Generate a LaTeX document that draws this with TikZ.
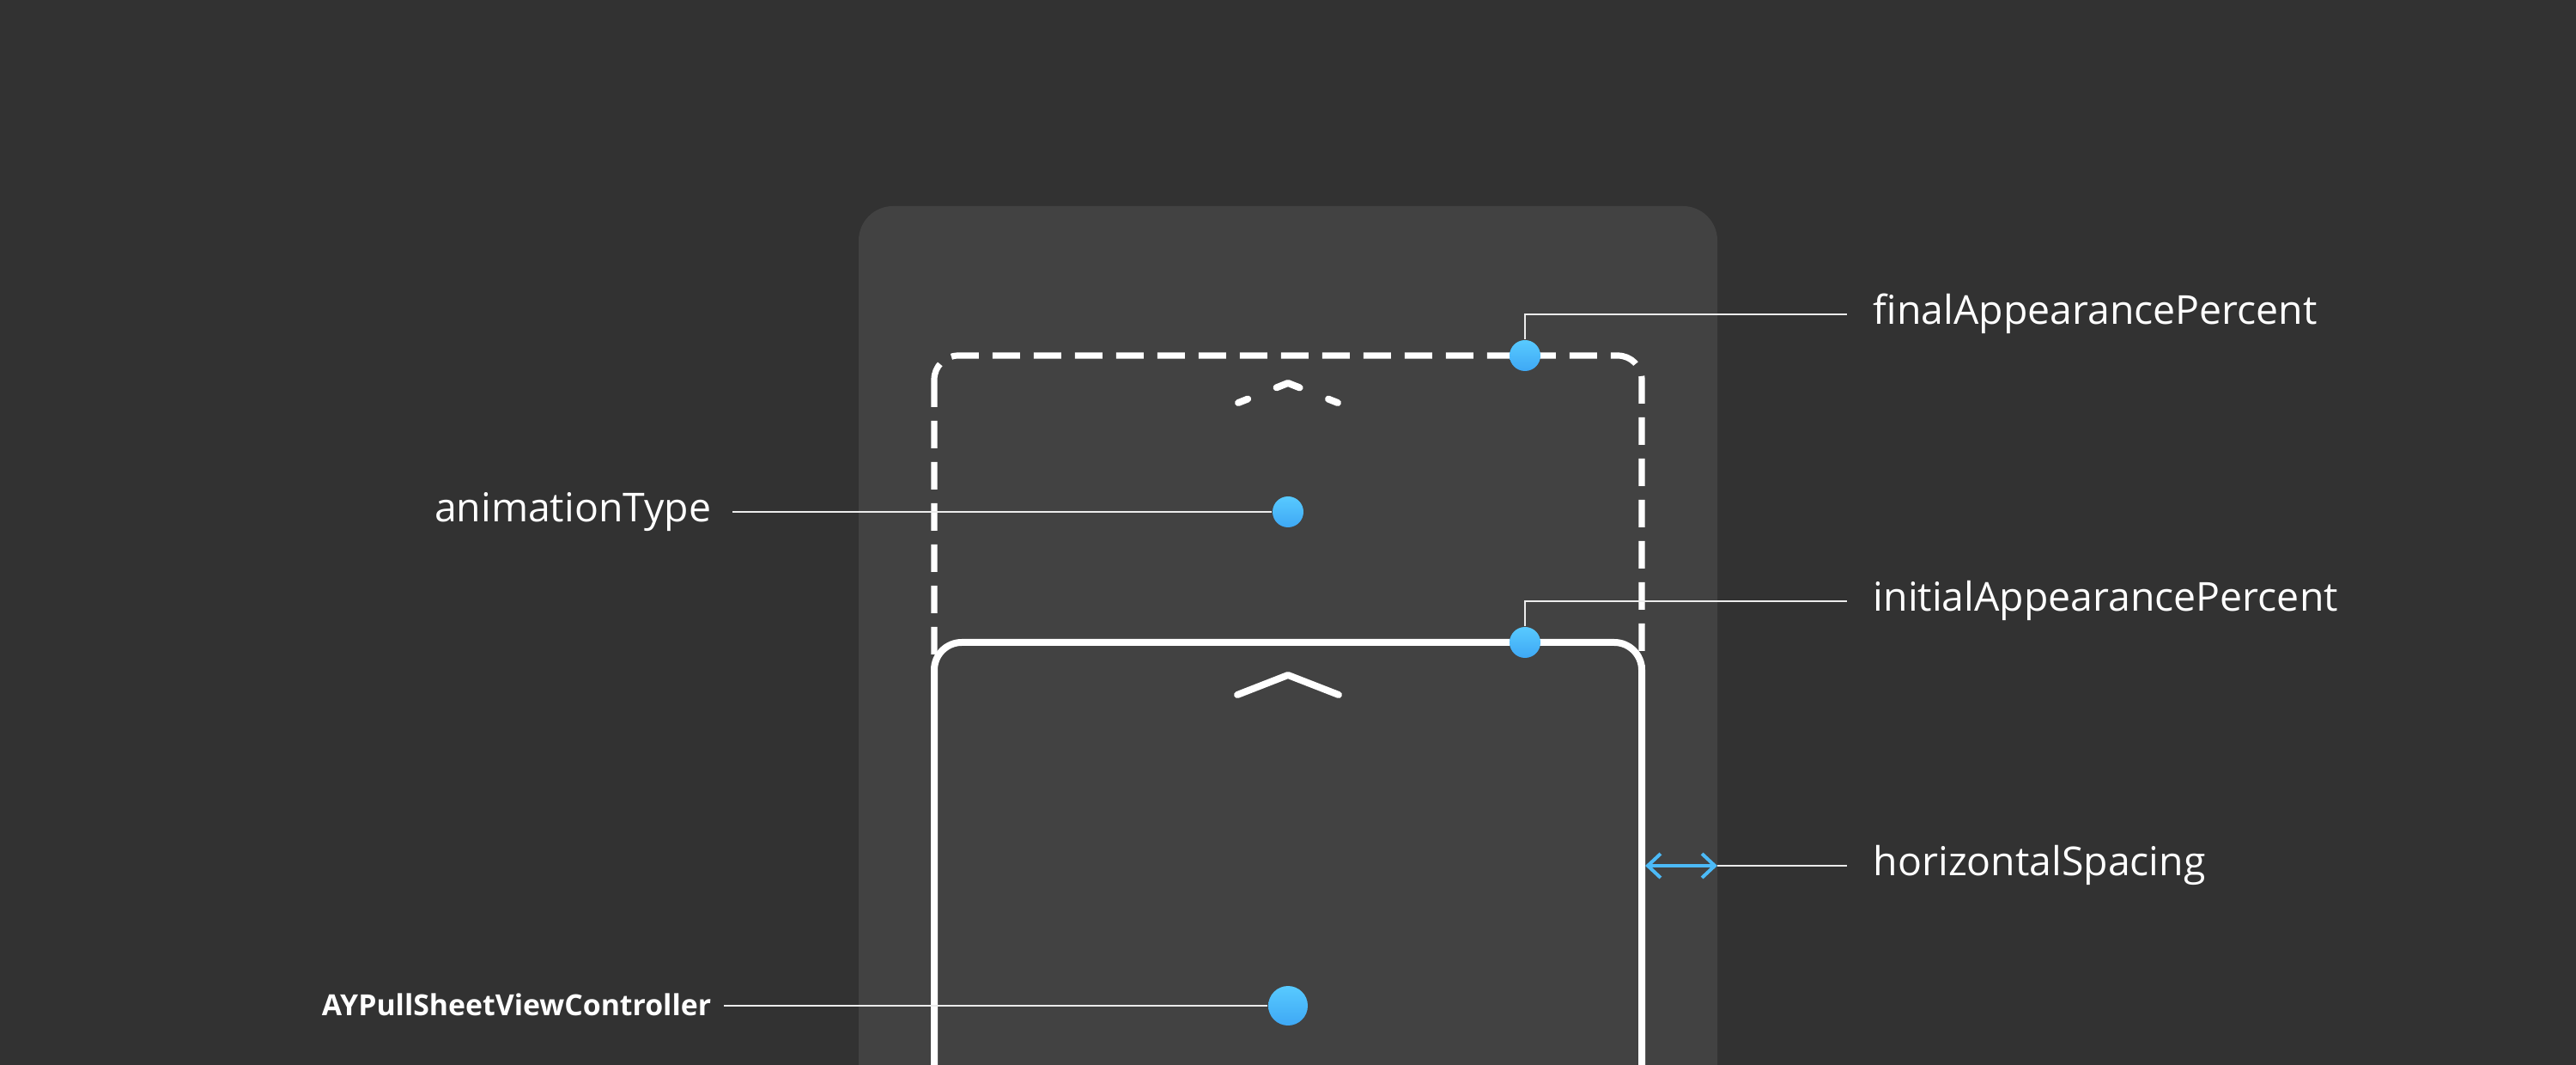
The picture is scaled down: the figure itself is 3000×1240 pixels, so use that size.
\documentclass[tikz,border=0pt]{standalone}
\usepackage{fontspec}
\setmainfont{Open Sans}
\usetikzlibrary{positioning,arrows.meta}
\definecolor{bgd}{RGB}{50,50,50}
\definecolor{pnl}{RGB}{66,66,66}
\definecolor{dotA}{RGB}{88,202,255}
\definecolor{dotB}{RGB}{62,168,245}
\definecolor{spcb}{RGB}{76,186,247}

\begin{document}
\begin{tikzpicture}[x=0.25pt,y=-0.25pt,font=\fontsize{11.6}{14}\selectfont,
  sheet/.style={draw=white,line width=2pt,rounded corners=8pt,fill=pnl},
  ghost/.style={draw=white,line width=1.8pt,rounded corners=7pt,dash pattern=on 8pt off 4pt},
  chev/.style={draw=white,line width=2pt,line cap=round,line join=round},
  dot/.style={circle,inner sep=0pt,minimum size=9pt,top color=dotA,bottom color=dotB,draw=none},
  lab/.style={text=white,inner xsep=6pt,inner ysep=0pt,text height=0.8em,text depth=0.24em},
  lead/.style={draw=white!85!gray,line width=0.35pt},
  spc/.style={draw=spcb,line width=1pt,>={Straight Barb[length=3.75pt,width=7pt]},<->}]
  \useasboundingbox (0,0) rectangle (3000,1240);
  \clip (0,0) rectangle (3000,1240);
  \fill[bgd] (0,0) rectangle (3000,1240);
  % phone panel and the two sheet positions
  \fill[pnl,rounded corners=10pt] (1000,240) rectangle (2000,1320);
  \draw[ghost] (1088,414) rectangle (1912,1400);
  \draw[chev,dash pattern=on 3pt off 9pt on 7.25pt off 9pt on 3pt off 10pt] (1442,469) -- (1500,446) -- (1558,469);
  \draw[sheet] (1088,748) rectangle (1912,1400);
  \draw[chev] (1441,809) -- (1500,786) -- (1559,809);
  % markers
  \node[dot] (fin) at (1776,414) {};
  \node[dot] (ini) at (1776,748) {};
  \node[dot] (anim) at (1500,596) {};
  \node[dot,minimum size=11.5pt] (pull) at (1500,1171) {};
  \coordinate (hsL) at (1916,1008); \coordinate (hsR) at (2000,1008);
  % labels
  \node[lab,anchor=west,inner xsep=7.5pt] (finlab) at (2151,366) {finalAppearancePercent};
  \node[lab,anchor=west,inner xsep=7.5pt] (inilab) at (2151,700) {initialAppearancePercent};
  \node[lab,anchor=west,inner xsep=7.5pt] (hslab) at (2151,1008) {horizontalSpacing};
  \node[lab,anchor=east] (animlab) at (853,596) {animationType};
  \node[lab,anchor=east,inner xsep=3.5pt,font=\bfseries\fontsize{8.45}{10}\selectfont] (pulllab) at (843,1171) {AYPullSheetViewController};
  \draw[lead] (fin) |- (finlab.west); \draw[lead] (ini) |- (inilab.west);
  \draw[lead] (animlab.east) -- (anim); \draw[lead] (pulllab.east) -- (pull);
  \draw[lead] (hsR) -- (hslab.west); \draw[spc] (hsL) -- (hsR);
\end{tikzpicture}
\end{document}
